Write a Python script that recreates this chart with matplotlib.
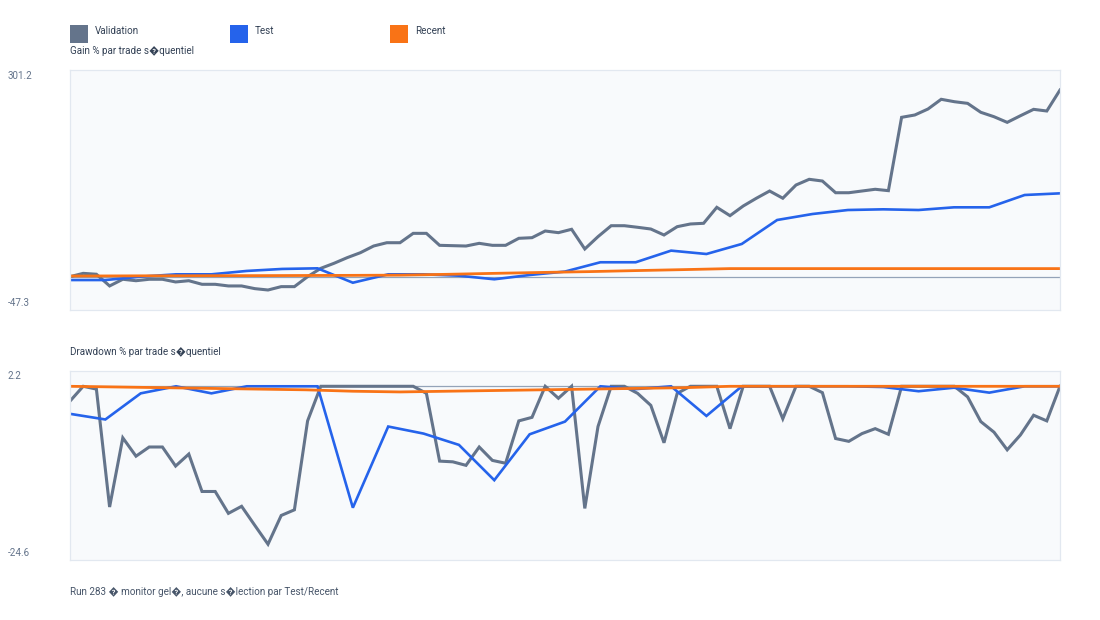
import numpy as np
import matplotlib
matplotlib.use("Agg")
import matplotlib.pyplot as plt
from matplotlib.patches import Rectangle

plt.rcParams['font.family'] = ['Roboto', 'DejaVu Sans']

# series (gain % and drawdown % per sequential trade)
val_gain = [1.1, 5.9, 4.6, -12.4, -2.7, -4.8, -2.7, -2.7, -6.6, -4.8,
            -10.0, -10.0, -12.4, -12.4, -16.3, -18.28, -13.4, -13.4, 1.1, 13.2,
            20.5, 28.7, 35.9, 45.6, 50.4, 50.4, 64.0, 64.0, 46.6, 46.1,
            45.6, 49.5, 46.6, 46.6, 56.8, 57.7, 67.4, 65.0, 69.9, 41.3,
            59.2, 75.1, 75.1, 72.8, 70.3, 61.6, 73.7, 77.6, 78.6, 101.8,
            89.7, 103.7, 115.0, 125.5, 115.0, 134.2, 142.5, 140.0, 123.0, 123.0,
            125.5, 128.0, 126.0, 232.5, 235.9, 244.6, 258.7, 255.2, 252.8, 239.8,
            233.4, 225.2, 234.8, 244.1, 241.7, 272.2]
val_dd = [-2.1, 0, -0.4, -17.1, -7.3, -9.9, -8.6, -8.6, -11.3, -9.6,
          -14.9, -14.9, -18.0, -17.0, -19.7, -22.37, -18.3, -17.5, -4.9, 0,
          0, 0, 0, 0, 0, 0, 0, -1.0, -10.6, -10.7,
          -11.2, -8.6, -10.5, -10.9, -4.9, -4.4, 0, -1.7, 0, -17.3,
          -5.7, 0, 0, -1.0, -2.7, -8.0, -1.0, 0, 0, 0,
          -6.0, 0, 0, 0, -4.6, 0, 0, -0.9, -7.4, -7.8,
          -6.7, -6.0, -6.8, 0, 0, 0, 0, 0, -1.5, -5.0,
          -6.5, -9.0, -6.9, -4.1, -4.9, 0]
test_gain = [-3.8, -3.8, 1.1, 4.5, 4.5, 9.4, 12.3, 13.2, -7.7, 4.5,
             4.5, 2.5, -2.7, 3.5, 8.5, 22.0, 22.0, 38.9, 34.0, 48.6,
             83.4, 92.1, 97.9, 98.9, 97.9, 101.8, 101.8, 119.7, 122.1]
test_dd = [-3.9, -4.7, -1.0, 0, -1.0, 0, 0, 0, -17.2, -5.7,
           -6.7, -8.3, -13.3, -6.8, -5.0, 0, -0.4, 0, -4.2, 0,
           0, 0, 0, -0.1, -0.7, -0.2, -0.9, 0, 0]
recent_gain = [2.0, 2.2, 2.4, 2.5, 2.6, 2.8, 3.0, 3.3, 4.5, 5.9, 7.2,
               8.4, 9.9, 11.3, 12.8, 12.8, 12.8, 12.8, 12.8, 12.8, 12.8, 12.8]
recent_dd = [0, -0.1, -0.2, -0.3, -0.4, -0.5, -0.7, -0.8, -0.7, -0.6, -0.5,
             -0.4, -0.3, -0.2, 0, 0, 0, 0, 0, 0, 0, 0]

names = ['Validation', 'Test', 'Recent']
colors = ['#64748b', '#2563eb', '#f97316']
widths = [2.2, 1.9, 2.0]
FS = 7.1

W, H = 1100, 620
fig = plt.figure(figsize=(W / 100, H / 100), dpi=100)
fig.patch.set_facecolor('white')

def make_ax(top, bottom):
    return fig.add_axes([70 / W, 1 - bottom / H, 990 / W, (bottom - top) / H])

def draw(ax, series, label_top, label_bottom):
    ax.set_facecolor('#f8fafc')
    for sp in ax.spines.values():
        sp.set_color('#e2e8f0')
        sp.set_linewidth(0.9)
    ax.axhline(0, color='#94a3b8', lw=0.9, zorder=1)
    for s, c, lw in zip(series, colors, widths):
        x = np.linspace(0, 1, len(s))
        ax.plot(x, s, color=c, lw=lw, zorder=2, solid_joinstyle='miter')
    allv = np.concatenate([np.asarray(s, float) for s in series])
    lo, hi = allv.min(), allv.max()
    pad = (hi - lo) * 0.1
    ax.set_ylim(lo - pad, hi + pad)
    ax.set_xlim(0, 1)
    ax.set_xticks([])
    ax.set_yticks([])
    fig.text(8 / W, 1 - label_top / H, f"{hi + pad:.1f}", fontsize=FS,
             color='#64748b', ha='left', va='center')
    fig.text(8 / W, 1 - label_bottom / H, f"{lo - pad:.1f}", fontsize=FS,
             color='#64748b', ha='left', va='center')

ax1 = make_ax(70, 310)
draw(ax1, [val_gain, test_gain, recent_gain], 76, 303)
ax2 = make_ax(370.5, 560)
draw(ax2, [val_dd, test_dd, recent_dd], 376, 553)

# legend
for i, (n, c) in enumerate(zip(names, colors)):
    x0 = 70 + i * 160
    fig.patches.append(Rectangle((x0 / W, 1 - 43 / H), 18 / W, 18 / H,
                                 transform=fig.transFigure, facecolor=c,
                                 edgecolor='none'))
    fig.text((x0 + 25) / W, 1 - 31 / H, n, fontsize=FS, color='#334155',
             ha='left', va='center')

fig.text(70 / W, 1 - 50 / H, "Gain % par trade s\ufffdquentiel", fontsize=FS,
         color='#334155', ha='left', va='center')
fig.text(70 / W, 1 - 351 / H, "Drawdown % par trade s\ufffdquentiel", fontsize=FS,
         color='#334155', ha='left', va='center')
fig.text(70 / W, 1 - 591 / H,
         "Run 283 \ufffd monitor gel\ufffd, aucune s\ufffdlection par Test/Recent",
         fontsize=FS, color='#475569', ha='left', va='center')

fig.savefig('out.png', dpi=100)
